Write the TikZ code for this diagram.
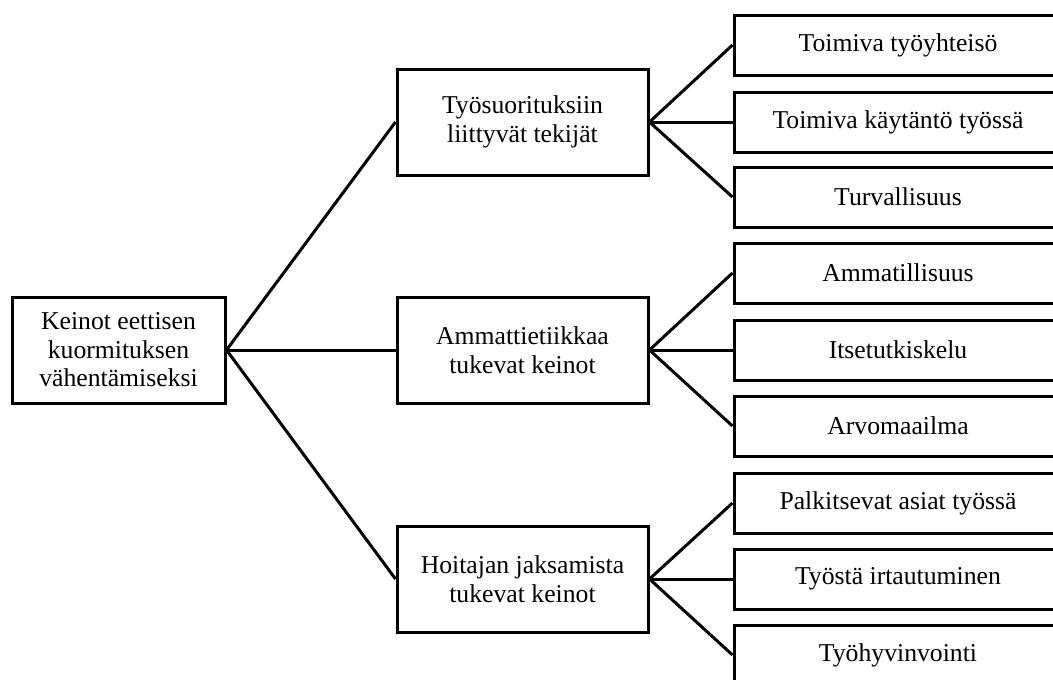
\documentclass[tikz,border=0pt]{standalone}
\usepackage{fontspec}
\setmainfont{Liberation Serif}
\begin{document}
\begin{tikzpicture}[x=1pt,y=-1pt,
  box/.style={draw=black,line width=3pt,fill=white,rectangle,inner sep=0pt,align=center,
    font=\fontsize{25.7}{28.5}\selectfont},
  bigbox/.style={box,minimum width=213pt,minimum height=106pt},
  midbox/.style={box,minimum width=251pt,minimum height=106pt},
  leafbox/.style={box,minimum width=328pt,minimum height=60pt},
  conn/.style={draw=black,line width=3pt}]
\useasboundingbox (0,0) rectangle (1053,680);
\clip (0,0) rectangle (1053,680);

\node[bigbox] (L) at (118.5,350) {Keinot eettisen\\kuormituksen\\vähentämiseksi};

\node[midbox] (M1) at (522.5,122) {Työsuorituksiin\\liittyvät tekijät};
\node[midbox] (M2) at (522.5,350) {Ammattietiikkaa\\tukevat keinot};
\node[midbox] (M3) at (522.5,579) {Hoitajan jaksamista\\tukevat keinot};

\node[leafbox] (R1) at (898,45) {Toimiva työyhteisö};
\node[leafbox] (R2) at (898,122) {Toimiva käytäntö työssä};
\node[leafbox] (R3) at (898,197) {Turvallisuus};
\node[leafbox] (R4) at (898,273) {Ammatillisuus};
\node[leafbox] (R5) at (898,350) {Itsetutkiskelu};
\node[leafbox] (R6) at (898,426) {Arvomaailma};
\node[leafbox] (R7) at (898,503) {Palkitsevat asiat työssä};
\node[leafbox] (R8) at (898,579) {Työstä irtautuminen};
\node[leafbox] (R9) at (898,655) {Työhyvinvointi};

\draw[conn] (L.east) -- (M1.west);
\draw[conn] (L.east) -- (M2.west);
\draw[conn] (L.east) -- (M3.west);

\draw[conn] (M1.east) -- (R1.west);
\draw[conn] (M1.east) -- (R2.west);
\draw[conn] (M1.east) -- (R3.west);
\draw[conn] (M2.east) -- (R4.west);
\draw[conn] (M2.east) -- (R5.west);
\draw[conn] (M2.east) -- (R6.west);
\draw[conn] (M3.east) -- (R7.west);
\draw[conn] (M3.east) -- (R8.west);
\draw[conn] (M3.east) -- (R9.west);
\end{tikzpicture}
\end{document}
